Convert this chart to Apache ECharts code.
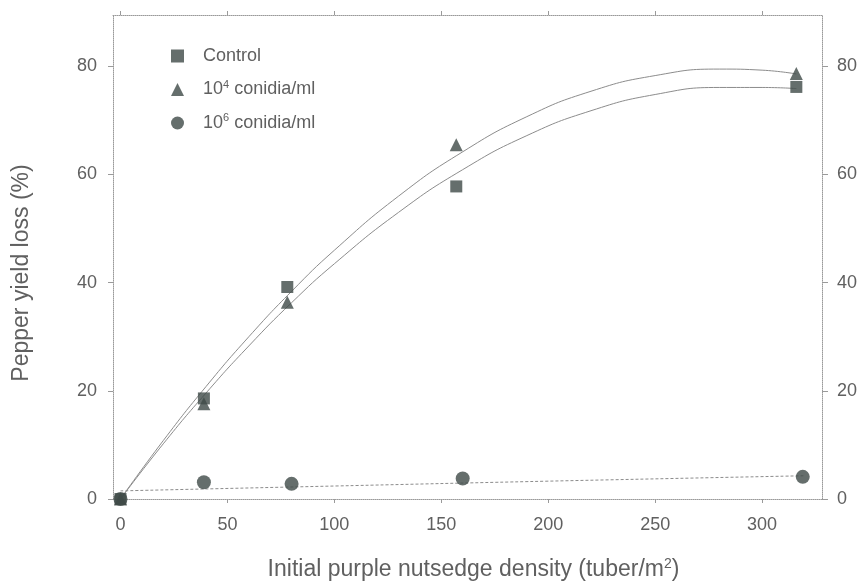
<!DOCTYPE html>
<html>
<head>
<meta charset="utf-8">
<script src="https://cdn.jsdelivr.net/npm/echarts@6/dist/echarts.min.js"></script>
<style>
  html, body { margin: 0; padding: 0; background: #fff; }
  #chart { width: 865px; height: 582px; }
</style>
</head>
<body>
<div id="chart"></div>
<script>
// measured points
var controlPts = [[0, 0], [39, 18.6], [78, 39.2], [157, 57.8], [316, 76.2]];
var c4Pts = [[0, 0], [39, 17.6], [78, 36.4], [157, 65.5], [316, 78.7]];
var c6Pts = [[0, 0], [39, 3.1], [80, 2.8], [160, 3.8], [319, 4.1]];

// fitted curves
var controlFit = [[0, 0], [20, 10.2], [40, 19.6], [60, 28.3], [80, 36.3], [100, 43.5], [130, 53],
  [160, 60.9], [190, 67.2], [220, 71.8], [250, 74.8], [280, 76.1], [300, 76.1], [316, 75.9]];
var c4Fit = [[0, 0], [20, 10.8], [40, 20.8], [60, 30], [80, 38.4], [100, 46], [130, 56],
  [160, 64.2], [190, 70.7], [220, 75.4], [250, 78.3], [280, 79.5], [300, 79.3], [316, 78.6]];
var c6Fit = [[0, 1.5], [100, 2.4], [200, 3.3], [320, 4.3]];

var xTicks = [0, 50, 100, 150, 200, 250, 300];
var yTicks = [0, 20, 40, 60, 80];

var dark = '#3e4a47';
var frame = '#9a9a9a';
var txt = '#606060';
var font = 'Liberation Sans';

var chart = echarts.init(document.getElementById('chart'));

function frameAxis() {
  return {
    axisLine: { show: true, onZero: false, lineStyle: { color: frame, type: 'dotted', width: 1 } },
    splitLine: { show: false }
  };
}

var option = {
  backgroundColor: '#fff',
  animation: false,
  textStyle: { fontFamily: font },
  grid: { left: 113, right: 43, top: 15, bottom: 83, outerBoundsMode: 'none', containLabel: false },
  legend: {
    orient: 'vertical',
    left: 166,
    top: 42,
    itemGap: 14,
    itemWidth: 13,
    itemHeight: 13,
    data: ['Control', '10^4 conidia/ml', '10^6 conidia/ml'],
    formatter: function (name) {
      if (name === 'Control') return 'Control';
      var p = name.split(' ');
      return '10{sup|' + p[0].slice(3) + '} conidia/ml';
    },
    textStyle: {
      color: txt, fontSize: 18, fontFamily: font, padding: [0, 0, 0, 14],
      rich: { sup: { fontSize: 11, color: txt, verticalAlign: 'top', padding: [0, 0, 10, 0] } }
    }
  },
  xAxis: [
    Object.assign(frameAxis(), {
      type: 'value', min: -3.5, max: 328, position: 'bottom',
      name: 'Initial purple nutsedge density (tuber/m{sup|2})',
      nameLocation: 'middle', nameGap: 58,
      nameTextStyle: { color: txt, fontSize: 23, fontFamily: font, padding: [0, 0, 0, 12],
        rich: { sup: { fontSize: 14, color: txt, verticalAlign: 'top', padding: [0, 0, 12, 0] } } },
      axisTick: { show: true, inside: false, length: 4, customValues: xTicks, lineStyle: { color: frame } },
      axisLabel: { customValues: xTicks, color: txt, fontSize: 18, margin: 17 }
    }),
    Object.assign(frameAxis(), {
      type: 'value', min: -3.5, max: 328, position: 'top',
      axisTick: { show: true, length: 4, customValues: xTicks, lineStyle: { color: frame } },
      axisLabel: { show: false }
    })
  ],
  yAxis: [
    Object.assign(frameAxis(), {
      type: 'value', min: 0, max: 89.5, position: 'left',
      name: 'Pepper yield loss (%)', nameLocation: 'middle', nameGap: 80,
      nameTextStyle: { color: txt, fontSize: 23, fontFamily: font, padding: [0, 32, 0, 0] },
      axisTick: { show: true, length: 5, customValues: yTicks, lineStyle: { color: frame } },
      axisLabel: { customValues: yTicks, color: txt, fontSize: 18, margin: 16 }
    }),
    Object.assign(frameAxis(), {
      type: 'value', min: 0, max: 89.5, position: 'right',
      axisTick: { show: true, length: 6, customValues: yTicks, lineStyle: { color: frame } },
      axisLabel: { customValues: yTicks, color: txt, fontSize: 18, margin: 15 }
    })
  ],
  series: [
    { name: 'controlFit', type: 'line', data: controlFit, smooth: true, showSymbol: false,
      lineStyle: { color: '#8c8c8c', width: 1 }, z: 1 },
    { name: 'c4Fit', type: 'line', data: c4Fit, smooth: true, showSymbol: false,
      lineStyle: { color: '#8c8c8c', width: 1 }, z: 1 },
    { name: 'c6Fit', type: 'line', data: c6Fit, smooth: true, showSymbol: false,
      lineStyle: { color: '#8c8c8c', width: 1, type: [3, 2] }, z: 1 },
    { name: 'Control', type: 'scatter', data: controlPts, symbol: 'rect', symbolSize: 12,
      itemStyle: { color: dark }, z: 3 },
    { name: '10^4 conidia/ml', type: 'scatter', data: c4Pts, symbol: 'triangle', symbolSize: 13,
      itemStyle: { color: dark }, z: 3 },
    { name: '10^6 conidia/ml', type: 'scatter', data: c6Pts, symbol: 'circle', symbolSize: 14,
      itemStyle: { color: dark }, z: 3 }
  ]
};

chart.setOption(option);
</script>
</body>
</html>
